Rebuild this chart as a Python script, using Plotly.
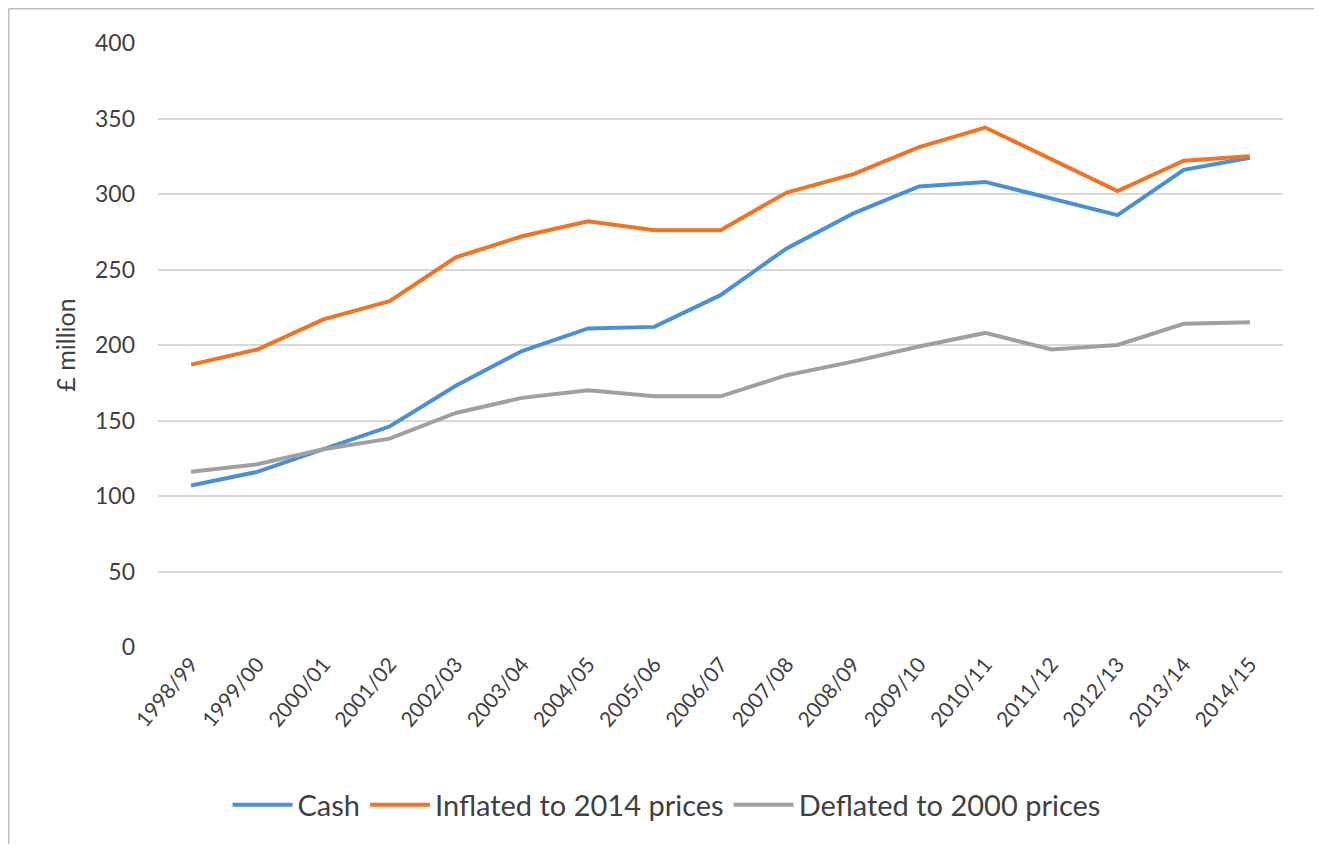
import plotly.graph_objects as go

years = ["1998/99", "1999/00", "2000/01", "2001/02", "2002/03", "2003/04", "2004/05",
         "2005/06", "2006/07", "2007/08", "2008/09", "2009/10", "2010/11", "2011/12",
         "2012/13", "2013/14", "2014/15"]
cash = [107, 116, 131, 146, 173, 196, 211, 212, 233, 264, 287, 305, 308, 297, 286, 316, 324]
inflated = [187, 197, 217, 229, 258, 272, 282, 276, 276, 301, 313, 331, 344, 323, 302, 322, 325]
deflated = [116, 121, 131, 138, 155, 165, 170, 166, 166, 180, 189, 199, 208, 197, 200, 214, 215]

font_family = "Lato, 'Open Sans', sans-serif"
text_color = "#404040"

# figure is placed at (8, 8) in the page by the default body margin;
# keep it small enough that no scrollbar appears
W, H = 1306, 836
L, T = 150, 35
PW, PH = 1125, 604
R, B = W - L - PW, H - T - PH

fig = go.Figure()
series = [("Cash", cash, "#4A90D6"), ("Inflated to 2014 prices", inflated, "#F07424"),
          ("Deflated to 2000 prices", deflated, "#A0A0A0")]
for name, vals, col in series:
    fig.add_trace(go.Scatter(x=years, y=vals, name=name, mode="lines",
                             line=dict(color=col, width=4)))

fig.update_layout(
    width=W, height=H,
    margin=dict(l=L, r=R, t=T, b=B),
    paper_bgcolor="white", plot_bgcolor="white",
    font=dict(family=font_family, color=text_color, size=21),
    showlegend=True,
    legend=dict(orientation="h", x=0.452, xanchor="center", y=-0.2616, yanchor="middle",
                font=dict(size=29, color=text_color), itemwidth=60, tracegroupgap=0),
    xaxis=dict(type="category", tickangle=-50, showgrid=False, showline=False,
               ticks="", tickfont=dict(size=21), range=[-0.5, 16.5]),
    yaxis=dict(range=[0, 400], dtick=50, showgrid=True, gridcolor="#D9D9D9", gridwidth=1.5,
               zeroline=False, showline=False, ticks="", tickfont=dict(size=23),
               ticklabelstandoff=22,
               title=dict(text="£ million", font=dict(size=25), standoff=12)),
)

# chart frame (left and top edges visible)
fx = (0.75 - L) / PW
fy = (PH + T - 0.75) / PH
fig.add_shape(type="line", xref="paper", yref="paper",
              x0=fx, x1=fx, y0=-(B / PH), y1=fy,
              line=dict(color="#BFBFBF", width=1.5))
fig.add_shape(type="line", xref="paper", yref="paper",
              x0=fx, x1=(W - L) / PW, y0=fy, y1=fy,
              line=dict(color="#BFBFBF", width=1.5))

fig.write_html("out.html")
